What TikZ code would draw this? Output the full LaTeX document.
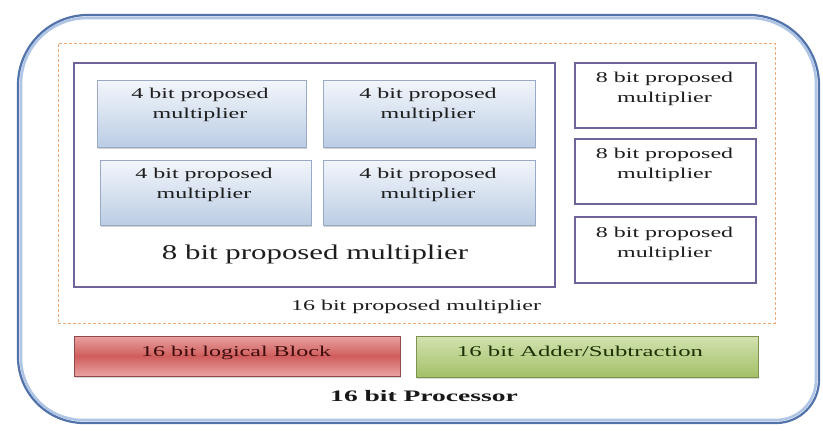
\documentclass[tikz,border=0pt]{standalone}
\usepackage{fontspec}
\setmainfont{Liberation Serif}
\usepackage{graphicx}
\usetikzlibrary{shadows}
\definecolor{outerblue}{HTML}{5272AA}
\definecolor{outerglow}{HTML}{AFC5E6}
\definecolor{dashorange}{HTML}{EFA877}
\definecolor{purpleline}{HTML}{6F6399}
\definecolor{fourtop}{HTML}{F3F6FB}
\definecolor{fourbot}{HTML}{BBCDE4}
\definecolor{fourline}{HTML}{98AAC6}
\definecolor{redlight}{HTML}{E9A2A1}
\definecolor{reddark}{HTML}{CF5E5D}
\definecolor{redline}{HTML}{8E4A49}
\definecolor{greentop}{HTML}{D3E2B0}
\definecolor{greenbot}{HTML}{A3C068}
\definecolor{greenline}{HTML}{7D9450}
\definecolor{txtgray}{HTML}{1E1E1E}
\definecolor{redtxt}{HTML}{3E0C0C}
\definecolor{greentxt}{HTML}{1C3205}
\newcommand{\sx}[2]{\scalebox{#1}[1]{#2}}
\newcommand{\twol}[2]{\begin{tabular}[t]{@{}c@{}}#1\\#2\end{tabular}}
\begin{document}
\begin{tikzpicture}[x=1pt,y=-1pt,
  font=\fontsize{15}{20}\selectfont,
  txt/.style={inner sep=0pt, anchor=base, text=txtgray},
  fourbox/.style={draw=fourline, line width=0.8pt, top color=fourtop, bottom color=fourbot,
    drop shadow={opacity=0.35, shadow xshift=0.8pt, shadow yshift=-1.6pt}, inner sep=0pt},
  eightbox/.style={draw=purpleline, line width=1.8pt, fill=white, inner sep=0pt},
  redbox/.style={draw=redline, line width=0.8pt, top color=redlight, bottom color=redlight, middle color=reddark,
    drop shadow={opacity=0.3, shadow xshift=0.8pt, shadow yshift=-1.5pt}, inner sep=0pt},
  greenbox/.style={draw=greenline, line width=0.8pt, top color=greentop, bottom color=greenbot,
    drop shadow={opacity=0.3, shadow xshift=0.8pt, shadow yshift=-1.5pt}, inner sep=0pt},
  dashbox/.style={draw=dashorange, line width=1pt, dash pattern=on 3pt off 2pt, inner sep=0pt},
]
\useasboundingbox (0,0) rectangle (823,431);
\fill[white] (0,0) rectangle (823,431);

% outer processor frame
\coordinate (pl) at (18,220);
\draw[outerglow, line width=2.6pt] (21,220) [rounded corners=66pt] |- (419,18) -| (816,220)
   [rounded corners=40pt] |- (419,420) [rounded corners=62pt] -| cycle;
\draw[outerblue, line width=2.2pt] (pl) [rounded corners=70pt] |- (419,15) -| (819,220)
   [rounded corners=43pt] |- (419,423) [rounded corners=66pt] -| cycle;

% 16 bit dashed region
\node[dashbox, minimum width=717pt, minimum height=280pt] (m16) at (416.5,183) {};

% 8 bit big box
\node[eightbox, minimum width=481pt, minimum height=224pt] (m8) at (314.5,175) {};

% 4 bit boxes
\node[fourbox, minimum width=209pt, minimum height=67pt] (b1) at (201.5,113.5) {};
\node[fourbox, minimum width=212pt, minimum height=67pt] (b2) at (429,113.5) {};
\node[fourbox, minimum width=211pt, minimum height=65pt] (b3) at (205.5,192.5) {};
\node[fourbox, minimum width=212pt, minimum height=65pt] (b4) at (429,192.5) {};
\node[txt] (t1) at (200,98) {\sx{1.6}{\twol{4 bit proposed}{multiplier}}};
\node[txt] (t2) at (428,98) {\sx{1.6}{\twol{4 bit proposed}{multiplier}}};
\node[txt] (t3) at (204,178) {\sx{1.6}{\twol{4 bit proposed}{multiplier}}};
\node[txt] (t4) at (428,178) {\sx{1.6}{\twol{4 bit proposed}{multiplier}}};

\node[txt, font=\fontsize{21}{24}\selectfont] (t8) at (315,259) {\sx{1.47}{8 bit proposed multiplier}};

% right 8 bit boxes
\node[eightbox, minimum width=181pt, minimum height=65pt] (r1) at (665.5,95.5) {};
\node[eightbox, minimum width=181pt, minimum height=65pt] (r2) at (665.5,171.5) {};
\node[eightbox, minimum width=181pt, minimum height=66pt] (r3) at (665.5,250) {};
\node[txt] (s1) at (664.5,82) {\sx{1.6}{\twol{8 bit proposed}{multiplier}}};
\node[txt] (s2) at (664.5,158) {\sx{1.6}{\twol{8 bit proposed}{multiplier}}};
\node[txt] (s3) at (664.5,237) {\sx{1.6}{\twol{8 bit proposed}{multiplier}}};

\node[txt] (t16) at (416,310) {\sx{1.6}{16 bit proposed multiplier}};

% logical and adder blocks
\node[redbox, minimum width=326pt, minimum height=40pt] (lb) at (237,356) {};
\node[greenbox, minimum width=342pt, minimum height=41pt] (ab) at (587,356.5) {};
\node[txt, text=redtxt] (lt) at (236,356) {\sx{1.6}{16 bit logical Block}};
\node[txt, text=greentxt] (at) at (580,356) {\sx{1.65}{16 bit Adder/Subtraction}};

\node[txt, font=\fontsize{16}{20}\selectfont\bfseries, text=black!90] (pt) at (424,401) {\sx{1.72}{16 bit Processor}};
\end{tikzpicture}
\end{document}
